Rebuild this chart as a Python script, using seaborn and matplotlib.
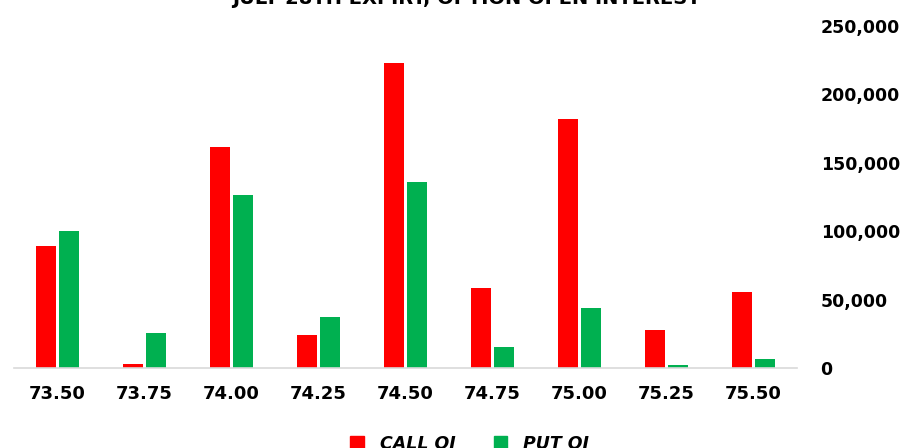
import numpy as np
import pandas as pd
import matplotlib
matplotlib.use("Agg")
import matplotlib.pyplot as plt
import seaborn as sns
from matplotlib.ticker import FuncFormatter

# data
strikes = ["73.50", "73.75", "74.00", "74.25", "74.50", "74.75", "75.00", "75.25", "75.50"]
call_oi = [89000, 3100, 161000, 24000, 222500, 58500, 181500, 28000, 55800]
put_oi = [99700, 25500, 126500, 37200, 135800, 15000, 44000, 1900, 6600]
series = ["CALL OI", "PUT OI"]
colors = {"CALL OI": "#FF0000", "PUT OI": "#00B050"}

df = pd.DataFrame({
    "strike": strikes * 2,
    "oi": call_oi + put_oi,
    "series": [series[0]] * len(strikes) + [series[1]] * len(strikes),
})

sns.set_style("white")
plt.rcParams["font.family"] = ["DejaVu Sans"]
plt.rcParams["text.color"] = "black"
plt.rcParams["xtick.color"] = "black"
plt.rcParams["ytick.color"] = "black"

fig = plt.figure(figsize=(9.03, 4.48), dpi=100)
ax = fig.add_axes([14 / 903, 1 - 368 / 448, 783 / 903, (368 - 25.6) / 448])

sns.barplot(data=df, x="strike", y="oi", hue="series", palette=colors,
            width=0.52, gap=0.1, saturation=1, edgecolor="none", ax=ax,
            legend=False)

ax.set_ylim(0, 250000)
ax.set_xlim(-0.5, len(strikes) - 0.5)
ax.yaxis.tick_right()
ax.yaxis.set_major_formatter(FuncFormatter(lambda v, p: f"{int(v):,}"))
ax.set_yticks(np.arange(0, 250001, 50000))
ax.tick_params(axis="both", length=0)
ax.tick_params(axis="y", pad=17, labelsize=12.5)
ax.tick_params(axis="x", pad=12, labelsize=13)
for lbl in ax.get_xticklabels() + ax.get_yticklabels():
    lbl.set_fontweight("bold")
ax.set_xlabel("")
ax.set_ylabel("")
sns.despine(ax=ax, left=True, right=True, top=True)
ax.spines["bottom"].set_color("#d9d9d9")
ax.spines["bottom"].set_linewidth(1.2)

# title sits partly above the top edge, as in the original
fig.text(0.516, 1.004, "JULY 28TH EXPIRY, OPTION OPEN INTEREST",
         ha="center", va="center", fontsize=14, fontweight="bold")

handles = [plt.Rectangle((0, 0), 1, 1, color=colors[s]) for s in series]
leg = fig.legend(handles, series, loc="center", bbox_to_anchor=(0.52, 0.01),
                 ncol=2, frameon=False, handlelength=0.8, handleheight=0.8,
                 columnspacing=2.2, handletextpad=0.9,
                 prop={"weight": "bold", "style": "italic", "size": 12.5})

fig.savefig("out.png", dpi=100)
